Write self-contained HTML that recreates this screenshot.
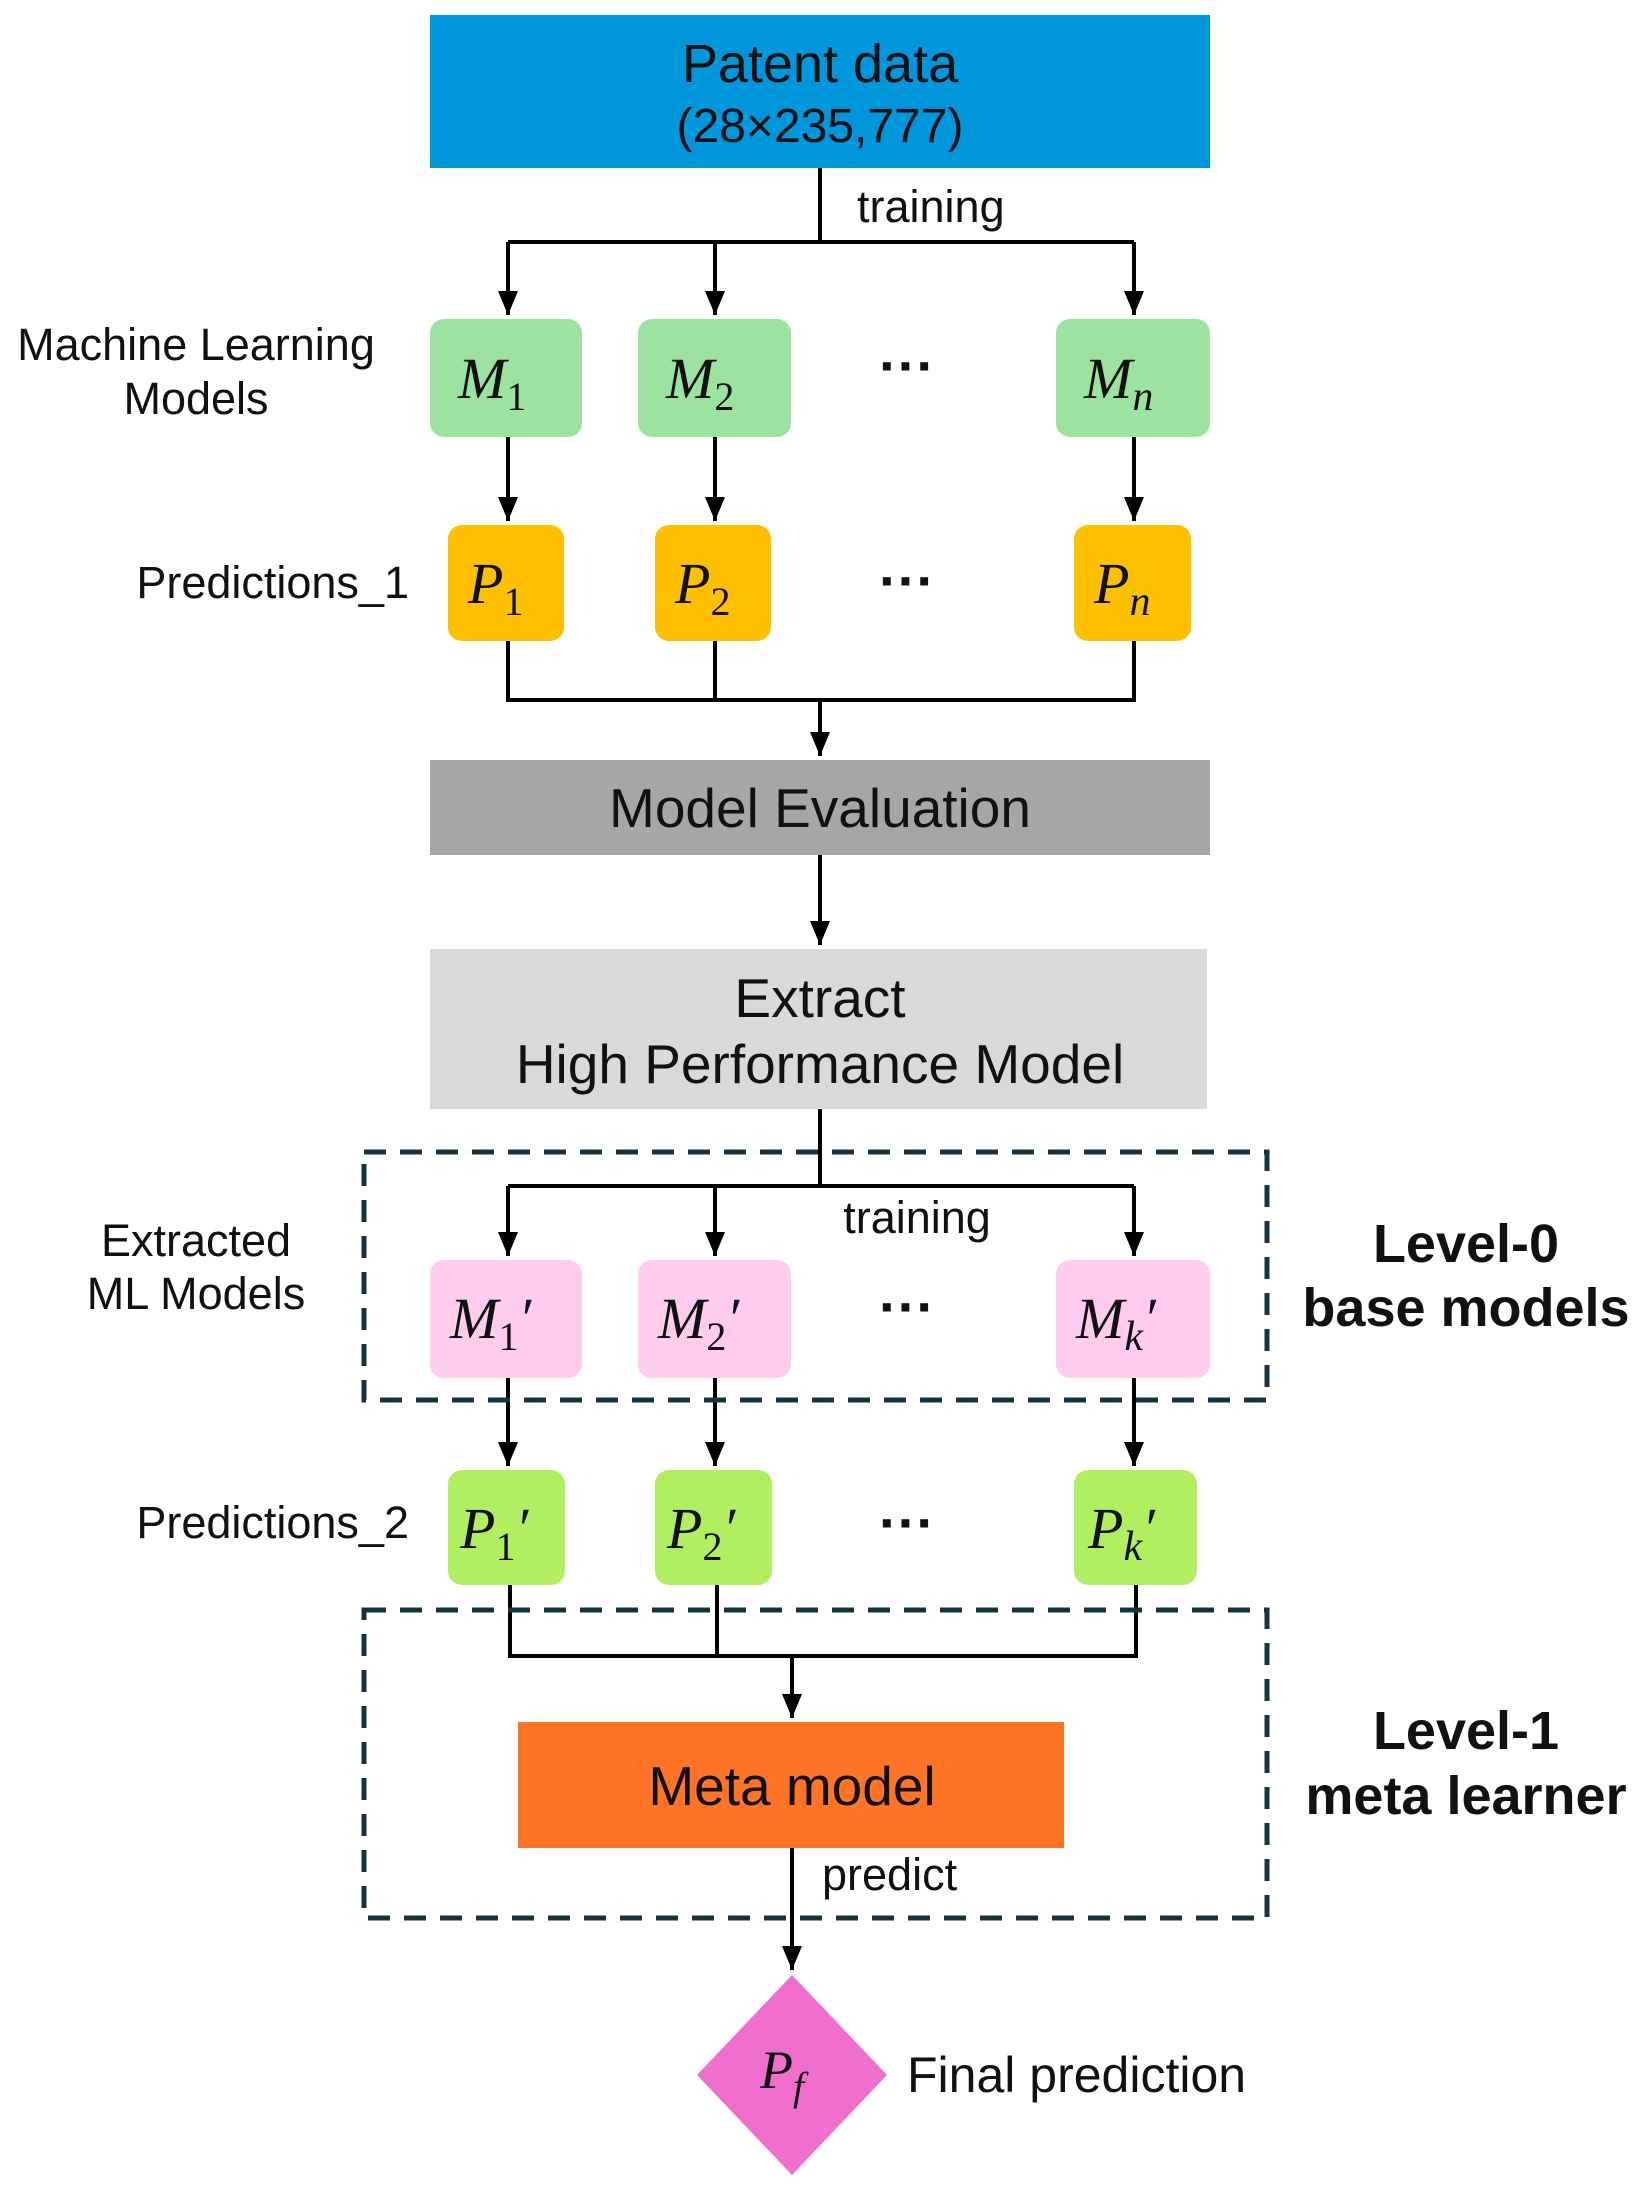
<!DOCTYPE html>
<html><head><meta charset="utf-8"><style>
body{margin:0;background:#fff}
svg{display:block}
.t{font-family:"Liberation Sans",sans-serif;fill:#111}
.m{font-family:"Liberation Serif",serif;font-style:italic;fill:#111}
</style></head><body>
<svg width="1644" height="2193" viewBox="0 0 1644 2193" xmlns="http://www.w3.org/2000/svg">
<defs>
<marker id="b" markerWidth="20" markerHeight="24" refX="10" refY="24" orient="0" markerUnits="userSpaceOnUse" viewBox="0 0 20 24"><path d="M0,0 L20,0 L10,24 z" fill="#000"/></marker></defs>
<g stroke="#000" stroke-width="4" fill="none">
<path d="M820 168 V242"/><path d="M508 242 H1134"/>
<path d="M508 242 V315" marker-end="url(#b)"/><path d="M715 242 V315" marker-end="url(#b)"/><path d="M1134 242 V315" marker-end="url(#b)"/>
<path d="M508 437 V521" marker-end="url(#b)"/><path d="M715 437 V521" marker-end="url(#b)"/><path d="M1134 437 V521" marker-end="url(#b)"/>
<path d="M508 641 V700 H1134 V641"/><path d="M715 641 V700"/>
<path d="M820 700 V756" marker-end="url(#b)"/>
<path d="M820 855 V945" marker-end="url(#b)"/>
<path d="M820 1109 V1186"/><path d="M508 1186 H1134"/>
<path d="M508 1186 V1256" marker-end="url(#b)"/><path d="M715 1186 V1256" marker-end="url(#b)"/><path d="M1134 1186 V1256" marker-end="url(#b)"/>
<path d="M508 1378 V1466" marker-end="url(#b)"/><path d="M715 1378 V1466" marker-end="url(#b)"/><path d="M1134 1378 V1466" marker-end="url(#b)"/>
<path d="M510 1585 V1656 H1136 V1585"/><path d="M717 1585 V1656"/>
<path d="M792 1656 V1718" marker-end="url(#b)"/>
<path d="M792 1848 V1970" marker-end="url(#b)"/>
</g>
<g stroke="#17333f" stroke-width="5" fill="none" stroke-dasharray="22,14">
<rect x="364" y="1152" width="903" height="248"/>
<rect x="364" y="1610" width="903" height="308"/>
</g>
<rect x="430" y="15" width="780" height="153" fill="#0096dc"/>
<text class="t" x="820" y="82" font-size="54" text-anchor="middle">Patent data</text>
<text class="t" x="820" y="142" font-size="48" text-anchor="middle">(28×235,777)</text>
<text class="t" x="857" y="222" font-size="45">training</text>
<g fill="#9de3a0"><rect x="430" y="319" width="152" height="118" rx="14"/><rect x="638" y="319" width="153" height="118" rx="14"/><rect x="1056" y="319" width="154" height="118" rx="14"/></g>
<text class="m" font-size="58" x="458" y="398">M<tspan font-size="40" font-style="normal" dy="12">1</tspan></text>
<text class="m" font-size="58" x="666" y="398">M<tspan font-size="40" font-style="normal" dy="12">2</tspan></text>
<text class="m" font-size="58" x="1084" y="398">M<tspan font-size="42" dy="12">n</tspan></text>
<text class="t" x="907" y="385" font-size="56" text-anchor="middle" font-weight="bold">···</text>
<text class="t" x="196" y="360" font-size="45" text-anchor="middle">Machine Learning</text>
<text class="t" x="196" y="414" font-size="45" text-anchor="middle">Models</text>
<g fill="#ffc000"><rect x="448" y="525" width="116" height="116" rx="14"/><rect x="655" y="525" width="116" height="116" rx="14"/><rect x="1074" y="525" width="117" height="116" rx="14"/></g>
<text class="m" font-size="58" x="468" y="603">P<tspan font-size="40" font-style="normal" dy="12">1</tspan></text>
<text class="m" font-size="58" x="675" y="603">P<tspan font-size="40" font-style="normal" dy="12">2</tspan></text>
<text class="m" font-size="58" x="1094" y="603">P<tspan font-size="42" dy="12">n</tspan></text>
<text class="t" x="907" y="600" font-size="56" text-anchor="middle" font-weight="bold">···</text>
<text class="t" x="409" y="598" font-size="45" text-anchor="end">Predictions_1</text>
<rect x="430" y="760" width="780" height="95" fill="#a6a6a6"/>
<text class="t" x="820" y="827" font-size="55" text-anchor="middle">Model Evaluation</text>
<rect x="430" y="949" width="777" height="160" fill="#d9d9d9"/>
<text class="t" x="820" y="1017" font-size="55" text-anchor="middle">Extract</text>
<text class="t" x="820" y="1083" font-size="55" text-anchor="middle">High Performance Model</text>
<text class="t" x="917" y="1233" font-size="45" text-anchor="middle">training</text>
<g fill="#ffccee"><rect x="430" y="1260" width="152" height="118" rx="14"/><rect x="638" y="1260" width="153" height="118" rx="14"/><rect x="1056" y="1260" width="154" height="118" rx="14"/></g>
<text class="m" font-size="58" x="450" y="1338">M<tspan font-size="40" font-style="normal" dy="12">1</tspan><tspan dy="-12">′</tspan></text>
<text class="m" font-size="58" x="658" y="1338">M<tspan font-size="40" font-style="normal" dy="12">2</tspan><tspan dy="-12">′</tspan></text>
<text class="m" font-size="58" x="1076" y="1338">M<tspan font-size="42" dy="12">k</tspan><tspan dy="-12">′</tspan></text>
<text class="t" x="907" y="1326" font-size="56" text-anchor="middle" font-weight="bold">···</text>
<text class="t" x="196" y="1256" font-size="45" text-anchor="middle">Extracted</text>
<text class="t" x="196" y="1309" font-size="45" text-anchor="middle">ML Models</text>
<text class="t" x="1466" y="1262" font-size="54" text-anchor="middle" font-weight="bold">Level-0</text>
<text class="t" x="1466" y="1326" font-size="54" text-anchor="middle" font-weight="bold">base models</text>
<g fill="#b0f060"><rect x="448" y="1470" width="117" height="115" rx="14"/><rect x="655" y="1470" width="117" height="115" rx="14"/><rect x="1074" y="1470" width="123" height="115" rx="14"/></g>
<text class="m" font-size="58" x="460" y="1548">P<tspan font-size="40" font-style="normal" dy="12">1</tspan><tspan dy="-12">′</tspan></text>
<text class="m" font-size="58" x="667" y="1548">P<tspan font-size="40" font-style="normal" dy="12">2</tspan><tspan dy="-12">′</tspan></text>
<text class="m" font-size="58" x="1088" y="1548">P<tspan font-size="42" dy="12">k</tspan><tspan dy="-12">′</tspan></text>
<text class="t" x="907" y="1542" font-size="56" text-anchor="middle" font-weight="bold">···</text>
<text class="t" x="409" y="1538" font-size="45" text-anchor="end">Predictions_2</text>
<rect x="518" y="1722" width="546" height="126" fill="#ff7426"/>
<text class="t" x="792" y="1805" font-size="55" text-anchor="middle">Meta model</text>
<text class="t" x="822" y="1890" font-size="45">predict</text>
<text class="t" x="1466" y="1749" font-size="54" text-anchor="middle" font-weight="bold">Level-1</text>
<text class="t" x="1466" y="1814" font-size="54" text-anchor="middle" font-weight="bold">meta learner</text>
<path d="M792 1975 L887 2075 L792 2175 L697 2075 Z" fill="#f06ece"/>
<text class="m" font-size="54" x="760" y="2088">P<tspan font-size="40" dy="12">f</tspan></text>
<text class="t" x="907" y="2092" font-size="50">Final prediction</text>
</svg>
</body></html>
